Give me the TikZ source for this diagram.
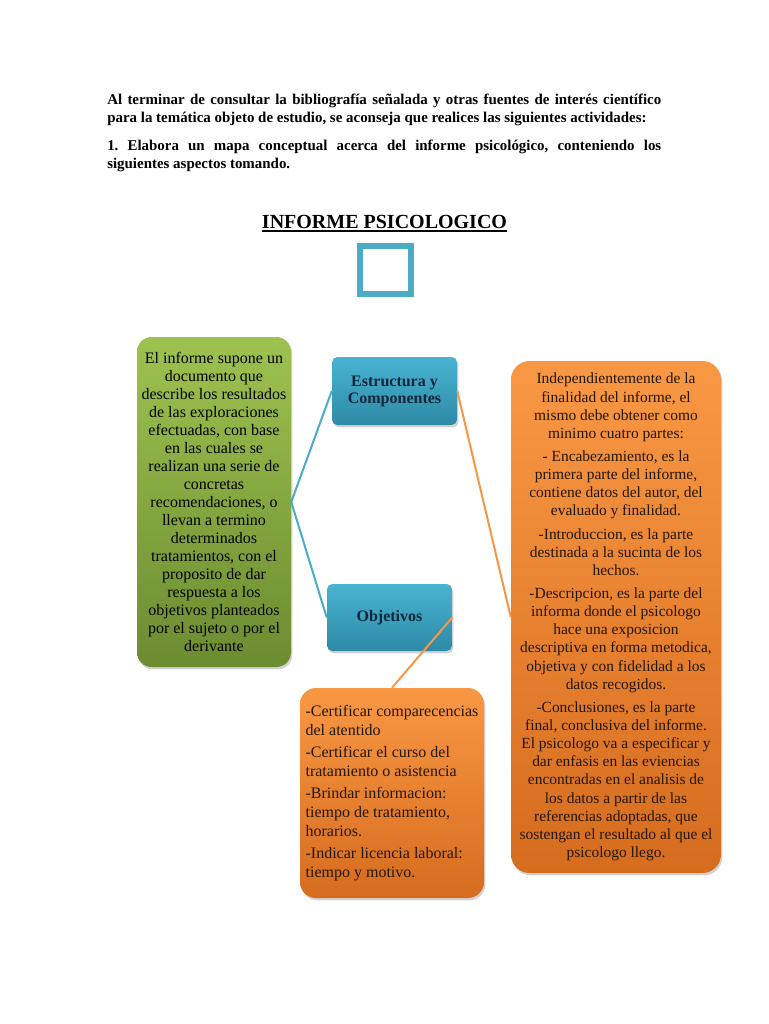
\documentclass[tikz,border=0pt]{standalone}
\usepackage{fontspec}
\setmainfont{Liberation Serif}
\usetikzlibrary{shadows}
\definecolor{tealc}{RGB}{75,172,198}
\definecolor{tealtop}{RGB}{72,180,210}
\definecolor{tealbot}{RGB}{46,138,166}
\definecolor{navy}{RGB}{18,38,58}
\definecolor{greentop}{RGB}{158,194,80}
\definecolor{greenbot}{RGB}{108,140,48}
\definecolor{orangec}{RGB}{247,150,70}
\definecolor{orangetop}{RGB}{249,152,68}
\definecolor{orangebot}{RGB}{214,108,30}
\definecolor{btext}{RGB}{35,22,10}
\frenchspacing
\tikzset{
  shbox/.style={inner sep=0pt, draw=none,
    drop shadow={opacity=0.35, shadow xshift=1pt, shadow yshift=-1.8pt}},
  greenbox/.style={shbox, rounded corners=11pt, top color=greentop, bottom color=greenbot,
    text=black, align=center, font=\fontsize{12}{13.5}\selectfont},
  bluebox/.style={shbox, rounded corners=4pt, top color=tealtop, bottom color=tealbot,
    text=navy, align=center, font=\bfseries\fontsize{12}{12.75}\selectfont},
  orangebox/.style={shbox, rounded corners=14pt, top color=orangetop, bottom color=orangebot,
    text=btext, font=\fontsize{11.6}{13.6}\selectfont},
  tealline/.style={draw=tealc, line width=1.5pt},
  orangeline/.style={draw=orangec, line width=1.5pt},
  toptext/.style={anchor=north west, inner sep=0pt, text width=554*0.75pt, align=justify,
    font=\bfseries\fontsize{11.2}{13.5}\selectfont}
}
\begin{document}
\begin{tikzpicture}[x=0.75pt,y=-0.75pt]
\useasboundingbox[fill=white] (0,0) rectangle (768,1024);

\node[toptext] (p1) at (107,94) {Al terminar de consultar la bibliografía señalada y otras fuentes de interés científico\linebreak para la temática objeto de estudio, se aconseja que realices las siguientes actividades:};
\node[toptext] (p2) at (107,140) {1.\ Elabora un mapa conceptual acerca del informe psicológico, conteniendo los\linebreak siguientes aspectos tomando.};

\node[inner sep=0pt, font=\bfseries\fontsize{15}{18}\selectfont] (title) at (384.5,222) {INFORME PSICOLOGICO};
\draw[line width=1.1pt] ([yshift=-2pt]title.base west) -- ([yshift=-2pt]title.base east);

\node[draw=tealc, line width=4.5pt, minimum width=51*0.75pt, minimum height=48*0.75pt, inner sep=0pt] (sq) at (385.5,270) {};

\node[greenbox, minimum width=154*0.75pt, minimum height=330*0.75pt] (green) at (214,502) {El informe supone un\\documento que\\describe los resultados\\de las exploraciones\\efectuadas, con base\\en las cuales se\\realizan una serie de\\concretas\\recomendaciones, o\\llevan a termino\\determinados\\tratamientos, con el\\proposito de dar\\respuesta a los\\objetivos planteados\\por el sujeto o por el\\derivante};

\node[bluebox, minimum width=125*0.75pt, minimum height=68*0.75pt] (estr) at (394.5,391) {Estructura y\\Componentes};
\node[bluebox, minimum width=125*0.75pt, minimum height=67*0.75pt] (obj) at (389.5,617.5) {Objetivos};

\node[orangebox, align=center, minimum width=210*0.75pt, minimum height=512*0.75pt] (right) at (616,617) {Independientemente de la\\finalidad del informe, el\\mismo debe obtener como\\minimo cuatro partes:\\[3.8pt]- Encabezamiento, es la\\primera parte del informe,\\contiene datos del autor, del\\evaluado y finalidad.\\[3.8pt]-Introduccion, es la parte\\destinada a la sucinta de los\\hechos.\\[3.8pt]-Descripcion, es la parte del\\informa donde el psicologo\\hace una exposicion\\descriptiva en forma metodica,\\objetiva y con fidelidad a los\\datos recogidos.\\[3.8pt]-Conclusiones, es la parte\\final, conclusiva del informe.\\El psicologo va a especificar y\\dar enfasis en las eviencias\\encontradas en el analisis de\\los datos a partir de las\\referencias adoptadas, que\\sostengan el resultado al que el\\psicologo llego.};

\node[orangebox, rounded corners=12pt, align=left, font=\fontsize{12}{14.25}\selectfont, minimum width=184*0.75pt, minimum height=210*0.75pt] (bottom) at (392,793) {-Certificar comparecencias\\del atentido\\[2.3pt]-Certificar el curso del\\tratamiento o asistencia\\[2.3pt]-Brindar informacion:\\tiempo de tratamiento,\\horarios.\\[2.3pt]-Indicar licencia laboral:\\tiempo y motivo.};

\draw[tealline] (estr.west) -- (green.east) -- (obj.west);
\draw[orangeline] (estr.east) -- (right.west);
\draw[orangeline] (obj.east) -- (bottom.north);
\end{tikzpicture}
\end{document}
